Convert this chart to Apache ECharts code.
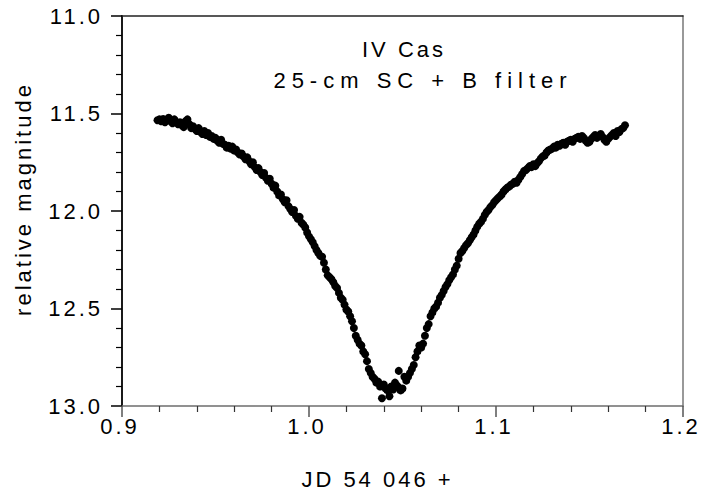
<!DOCTYPE html>
<html>
<head>
<meta charset="utf-8">
<script src="https://cdn.jsdelivr.net/npm/echarts@6/dist/echarts.min.js"></script>
<style>
html,body{margin:0;padding:0;background:#fff;}
#chart{width:701px;height:495px;}
#chart svg text{letter-spacing:3px;}
</style>
</head>
<body>
<div id="chart"></div>
<script>
// ---- data ----
const titleLines = ["IV Cas", "25-cm SC + B filter"];
const xAxisName = "JD 54 046 +";
const yAxisName = "relative magnitude";
const xTicks = [0.9, 1.0, 1.1, 1.2];
const yTicks = [11.0, 11.5, 12.0, 12.5, 13.0];

const jd = [
0.919,0.920,0.921,0.922,0.923,0.924,0.925,0.926,0.927,0.928,0.929,0.930,0.931,0.932,0.933,0.934,0.935,0.936,0.937,0.938,0.939,
0.940,0.941,0.942,0.943,0.944,0.945,0.946,0.947,0.948,0.949,0.950,0.951,0.952,0.953,0.954,0.955,0.956,0.957,0.958,0.959,
0.960,0.961,0.962,0.963,0.964,0.965,0.966,0.967,0.968,0.969,0.970,0.971,0.972,0.973,0.974,0.975,0.976,0.977,0.978,0.979,
0.980,0.981,0.982,0.983,0.984,0.985,0.986,0.987,0.988,0.989,0.990,0.991,0.992,0.993,0.994,0.995,0.996,0.997,0.998,0.999,
1.000,1.001,1.002,1.003,1.004,1.005,1.006,1.007,1.008,1.009,1.010,1.011,1.012,1.013,1.014,1.015,1.016,1.017,1.018,1.019,
1.020,1.021,1.022,1.023,1.024,1.025,1.026,1.027,1.028,1.029,1.030,1.031,1.032,1.033,1.034,1.035,1.036,1.037,1.038,1.039,
1.040,1.041,1.042,1.043,1.044,1.045,1.046,1.047,1.048,1.048,1.049,1.050,1.051,1.052,1.053,1.054,1.055,1.056,1.057,1.058,1.059,
1.060,1.061,1.062,1.063,1.064,1.065,1.066,1.067,1.068,1.069,1.070,1.071,1.072,1.073,1.074,1.075,1.076,1.077,1.078,1.079,
1.080,1.081,1.082,1.083,1.084,1.085,1.086,1.087,1.088,1.089,1.090,1.091,1.092,1.093,1.094,1.095,1.096,1.097,1.098,1.099,
1.100,1.101,1.102,1.103,1.104,1.105,1.106,1.107,1.108,1.109,1.110,1.111,1.112,1.113,1.114,1.115,1.116,1.117,1.118,1.119,
1.120,1.121,1.122,1.123,1.124,1.125,1.126,1.127,1.128,1.129,1.130,1.131,1.132,1.133,1.134,1.135,1.136,1.137,1.138,1.139,
1.140,1.141,1.142,1.143,1.144,1.145,1.146,1.147,1.148,1.149,1.150,1.151,1.152,1.153,1.154,1.155,1.156,1.157,1.158,1.159,
1.160,1.161,1.162,1.163,1.164,1.165,1.166,1.167,1.168,1.169
];
const mag = [
11.535,11.530,11.540,11.528,11.545,11.535,11.522,11.540,11.550,11.530,11.545,11.555,11.545,11.560,11.570,11.540,11.530,11.555,11.575,11.565,11.580,
11.590,11.575,11.595,11.605,11.590,11.610,11.600,11.620,11.615,11.630,11.625,11.640,11.650,11.635,11.655,11.660,11.675,11.665,11.680,11.670,
11.690,11.685,11.700,11.710,11.705,11.720,11.735,11.725,11.745,11.760,11.750,11.775,11.790,11.780,11.800,11.815,11.805,11.830,11.845,11.835,
11.860,11.880,11.870,11.900,11.920,11.915,11.940,11.955,11.945,11.975,11.990,12.005,11.995,12.025,12.040,12.030,12.060,12.070,12.085,12.110,
12.130,12.145,12.160,12.180,12.200,12.215,12.230,12.235,12.265,12.300,12.330,12.340,12.350,12.365,12.385,12.395,12.420,12.445,12.455,12.480,
12.505,12.515,12.540,12.565,12.600,12.640,12.660,12.680,12.690,12.720,12.735,12.770,12.810,12.830,12.850,12.860,12.880,12.875,12.900,12.960,
12.890,12.910,12.920,12.950,12.900,12.915,12.880,12.895,12.905,12.820,12.920,12.910,12.850,12.870,12.850,12.830,12.810,12.790,12.750,12.720,12.690,
12.700,12.680,12.640,12.600,12.580,12.540,12.520,12.500,12.490,12.470,12.445,12.430,12.410,12.390,12.375,12.355,12.340,12.325,12.300,12.280,
12.245,12.215,12.205,12.190,12.175,12.165,12.150,12.135,12.120,12.100,12.080,12.065,12.055,12.040,12.020,12.005,11.995,11.980,11.970,11.955,
11.945,11.935,11.925,11.915,11.900,11.890,11.880,11.875,11.865,11.860,11.850,11.855,11.840,11.825,11.810,11.795,11.790,11.780,11.770,11.775,
11.760,11.770,11.755,11.745,11.730,11.720,11.715,11.700,11.690,11.685,11.680,11.670,11.675,11.660,11.665,11.655,11.650,11.660,11.645,11.640,
11.635,11.645,11.630,11.625,11.620,11.630,11.615,11.625,11.640,11.650,11.645,11.630,11.620,11.610,11.625,11.615,11.605,11.620,11.635,11.645,
11.630,11.620,11.610,11.600,11.615,11.590,11.595,11.580,11.575,11.560
];

const points = jd.map((x, i) => [x, mag[i]]);
const FONT = '"Liberation Sans", Arial, sans-serif';

const chart = echarts.init(document.getElementById('chart'), null, {renderer: 'svg'});

function widenSubtitle() {
  const texts = chart.getDom().querySelectorAll('text');
  texts.forEach(t => {
    if (t.textContent === titleLines[1]) t.style.letterSpacing = '6px';
  });
}
chart.on('rendered', widenSubtitle);
chart.on('finished', widenSubtitle);

chart.setOption({
  backgroundColor: '#fff',
  animation: false,
  grid: {left: 122, top: 16, width: 561, height: 392, show: false},
  graphic: [
    {type: 'text', x: 404, y: 49, style: {text: titleLines[0], font: '22px ' + FONT, fill: '#000', align: 'center', verticalAlign: 'middle'}},
    {type: 'text', x: 423, y: 80, style: {text: titleLines[1], font: '22px ' + FONT, fill: '#000', align: 'center', verticalAlign: 'middle'}}
  ],
  xAxis: [{
    type: 'value', min: xTicks[0], max: xTicks[xTicks.length - 1], interval: 0.1,
    name: xAxisName, nameLocation: 'middle', nameGap: 62,
    nameTextStyle: {fontFamily: FONT, fontSize: 22, color: '#000', padding: [0, 50, 0, 0]},
    axisLine: {show: true, onZero: false, lineStyle: {color: '#6e6e6e', width: 1.5}},
    axisTick: {show: true, inside: false, length: 11, lineStyle: {color: '#555', width: 1.5}},
    minorTick: {show: true, splitNumber: 5, length: 6, lineStyle: {color: '#333', width: 1.2}},
    axisLabel: {margin: 9, padding: [0, 4, 0, 0], fontFamily: FONT, fontSize: 22, color: '#000', formatter: v => v.toFixed(1)},
    splitLine: {show: false}
  }, {
    type: 'value', position: 'top', min: xTicks[0], max: xTicks[xTicks.length - 1],
    axisLine: {show: true, onZero: false, lineStyle: {color: '#222', width: 1.5}},
    axisTick: {show: false}, axisLabel: {show: false}, splitLine: {show: false}
  }],
  yAxis: [{
    type: 'value', inverse: true, min: yTicks[0], max: yTicks[yTicks.length - 1], interval: 0.5,
    name: yAxisName, nameLocation: 'middle', nameGap: 88, nameRotate: 90,
    nameTextStyle: {fontFamily: FONT, fontSize: 22, color: '#000', padding: [0, 0, 0, 24]},
    axisLine: {show: true, onZero: false, lineStyle: {color: '#000', width: 1.8}},
    axisTick: {show: true, inside: false, length: 11, lineStyle: {color: '#000', width: 1.5}},
    minorTick: {show: true, splitNumber: 5, length: 6, lineStyle: {color: '#000', width: 1.2}},
    axisLabel: {margin: 19, fontFamily: FONT, fontSize: 22, color: '#000', formatter: v => v.toFixed(1)},
    splitLine: {show: false}
  }, {
    type: 'value', position: 'right', inverse: true, min: yTicks[0], max: yTicks[yTicks.length - 1],
    axisLine: {show: true, onZero: false, lineStyle: {color: '#777', width: 1.5}},
    axisTick: {show: false}, axisLabel: {show: false}, splitLine: {show: false}
  }],
  series: [{
    type: 'scatter', xAxisIndex: 0, yAxisIndex: 0,
    data: points, symbol: 'circle', symbolSize: 8,
    itemStyle: {color: '#000', opacity: 1}
  }]
});
widenSubtitle();
setTimeout(widenSubtitle, 0);
</script>
</body>
</html>
